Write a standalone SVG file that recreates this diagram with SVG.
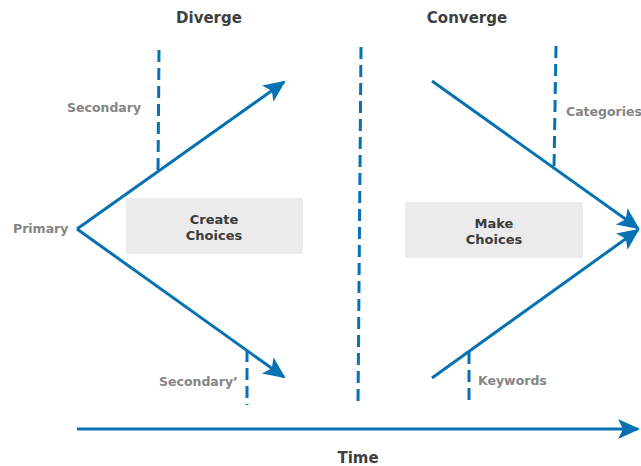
<svg xmlns="http://www.w3.org/2000/svg" width="641" height="466" viewBox="0 0 641 466">
<style>
.ln{stroke:#0772b1;stroke-width:3;fill:none}
.dash{stroke:#0772b1;stroke-width:3;fill:none;stroke-dasharray:12 6}
.hd{font-family:"DejaVu Sans",Verdana,sans-serif;font-weight:bold;font-size:15px;fill:#404040;text-anchor:middle}
.lb{font-family:"DejaVu Sans",Verdana,sans-serif;font-weight:bold;font-size:12.5px;fill:#858585}
.bx{fill:#ebebeb}
.bt{font-family:"DejaVu Sans",Verdana,sans-serif;font-weight:bold;font-size:13px;fill:#3a3a3a;text-anchor:middle}
</style>
<defs>
<marker id="ah" markerUnits="userSpaceOnUse" markerWidth="26" markerHeight="22" refX="20" refY="10" orient="auto">
<path d="M0,0 L22,10 L0,20 L5,10 Z" fill="#0772b1"/>
</marker>
</defs>
<g id="headers">
<text class="hd" x="209" y="23">Diverge</text>
<text class="hd" x="467" y="23">Converge</text>
<text class="hd" x="358" y="463">Time</text>
</g>
<g id="dividers">
<line class="dash" x1="159" y1="50" x2="158" y2="172"/>
<line class="dash" x1="247" y1="350" x2="247" y2="405"/>
<line class="dash" x1="361" y1="47" x2="358" y2="405"/>
<line class="dash" x1="556" y1="46" x2="554" y2="168"/>
<line class="dash" x1="469" y1="352" x2="469" y2="406"/>
</g>
<g id="connectors">
<line class="ln" x1="77" y1="229" x2="284" y2="82" marker-end="url(#ah)"/>
<line class="ln" x1="77" y1="229" x2="284" y2="377" marker-end="url(#ah)"/>
<line class="ln" x1="432" y1="81" x2="638" y2="228" marker-end="url(#ah)"/>
<line class="ln" x1="432" y1="378" x2="638" y2="230" marker-end="url(#ah)"/>
<line class="ln" x1="77" y1="429" x2="638" y2="429" marker-end="url(#ah)"/>
</g>
<g id="create-choices">
<rect class="bx" x="126" y="198" width="177" height="56"/>
<text class="bt" x="214" y="224">Create</text>
<text class="bt" x="214" y="240">Choices</text>
</g>
<g id="make-choices">
<rect class="bx" x="405" y="202" width="178" height="56"/>
<text class="bt" x="494" y="228">Make</text>
<text class="bt" x="494" y="244">Choices</text>
</g>
<g id="labels">
<text class="lb" x="67" y="112">Secondary</text>
<text class="lb" x="13" y="233">Primary</text>
<text class="lb" x="159" y="386">Secondary’</text>
<text class="lb" x="566" y="116">Categories</text>
<text class="lb" x="478" y="385">Keywords</text>
</g>
</svg>
